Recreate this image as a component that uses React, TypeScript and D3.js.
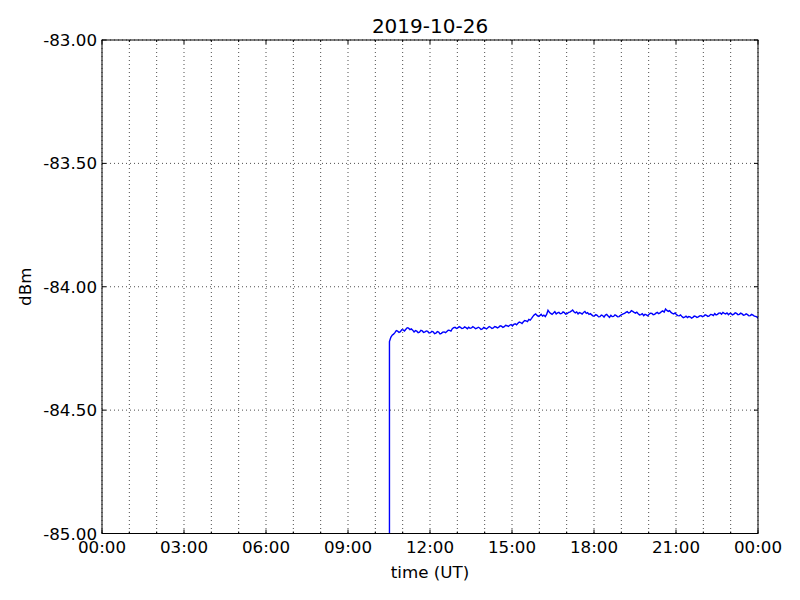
import React from 'react'
import * as d3 from 'd3'

// recorded signal level, one sample every 3 minutes from onset
const onsetMinute = 631
const stepMinutes = 3
const onsetFloor = -85.6
const dbm = [
  -84.222, -84.205, -84.196, -84.192, -84.186, -84.178, -84.180, -84.185, -84.182, -84.174,
  -84.175, -84.179, -84.172, -84.166, -84.168, -84.174, -84.171, -84.176, -84.183, -84.178,
  -84.180, -84.186, -84.184, -84.177, -84.179, -84.185, -84.183, -84.179, -84.181, -84.187,
  -84.186, -84.181, -84.183, -84.190, -84.188, -84.182, -84.184, -84.191, -84.189, -84.184,
  -84.183, -84.186, -84.181, -84.176, -84.177, -84.180, -84.170, -84.166, -84.164, -84.169,
  -84.167, -84.162, -84.165, -84.169, -84.168, -84.163, -84.166, -84.170, -84.164, -84.168,
  -84.167, -84.162, -84.165, -84.170, -84.168, -84.164, -84.167, -84.173, -84.171, -84.165,
  -84.168, -84.171, -84.166, -84.161, -84.164, -84.169, -84.167, -84.161, -84.163, -84.167,
  -84.164, -84.158, -84.160, -84.165, -84.162, -84.156, -84.158, -84.161, -84.156, -84.153,
  -84.159, -84.152, -84.150, -84.154, -84.148, -84.143, -84.145, -84.149, -84.142, -84.137,
  -84.138, -84.141, -84.132, -84.135, -84.128, -84.120, -84.114, -84.110, -84.116, -84.120,
  -84.117, -84.112, -84.119, -84.115, -84.121, -84.112, -84.095, -84.103, -84.108, -84.112,
  -84.106, -84.101, -84.110, -84.106, -84.104, -84.109, -84.108, -84.102, -84.105, -84.111,
  -84.109, -84.104, -84.103, -84.099, -84.094, -84.101, -84.106, -84.102, -84.110, -84.105,
  -84.107, -84.111, -84.104, -84.100, -84.108, -84.105, -84.112, -84.109, -84.114, -84.119,
  -84.118, -84.113, -84.116, -84.122, -84.121, -84.115, -84.117, -84.123, -84.115, -84.112,
  -84.119, -84.124, -84.116, -84.121, -84.120, -84.114, -84.117, -84.122, -84.121, -84.116,
  -84.113, -84.110, -84.108, -84.104, -84.101, -84.106, -84.104, -84.097, -84.100, -84.104,
  -84.107, -84.103, -84.109, -84.114, -84.113, -84.109, -84.117, -84.112, -84.114, -84.118,
  -84.111, -84.107, -84.108, -84.113, -84.112, -84.107, -84.104, -84.109, -84.106, -84.101,
  -84.098, -84.103, -84.090, -84.096, -84.100, -84.097, -84.104, -84.108, -84.110, -84.106,
  -84.113, -84.117, -84.118, -84.114, -84.121, -84.125, -84.123, -84.119, -84.125, -84.121,
  -84.122, -84.127, -84.124, -84.119, -84.120, -84.124, -84.122, -84.118, -84.117, -84.121,
  -84.119, -84.114, -84.116, -84.120, -84.118, -84.112, -84.113, -84.117, -84.109, -84.114,
  -84.112, -84.107, -84.106, -84.111, -84.104, -84.108, -84.110, -84.106, -84.113, -84.108,
  -84.109, -84.114, -84.111, -84.106, -84.108, -84.113, -84.112, -84.107, -84.110, -84.115,
  -84.114, -84.110, -84.113, -84.118, -84.117, -84.112, -84.115, -84.119, -84.120, -84.123,
  -84.129,
]

const yTicks = [-85, -84.5, -84, -83.5, -83]
const xMajorHours = [0, 3, 6, 9, 12, 15, 18, 21, 24]
const xMinorHours = [1, 2, 4, 5, 7, 8, 10, 11, 13, 14, 16, 17, 19, 20, 22, 23]
const xTickLabels = ['00:00', '03:00', '06:00', '09:00', '12:00', '15:00', '18:00', '21:00', '00:00']

const W = 800
const H = 600
const left = 102
const right = 758
const top = 40
const bottom = 533.5
const font = 'DejaVu Sans, sans-serif'

const App = () => {
  const x = d3.scaleLinear().domain([0, 24]).range([left, right])
  const y = d3.scaleLinear().domain([-85, -83]).range([bottom, top])

  const pts: [number, number][] = [[onsetMinute / 60, onsetFloor]]
  dbm.forEach((v, i) => pts.push([(onsetMinute + i * stepMinutes) / 60, v]))
  const line = d3.line<[number, number]>().x(d => x(d[0])).y(d => y(d[1]))

  const grid = { stroke: '#000', strokeWidth: 0.7, strokeDasharray: '1,3' }

  return (
    <svg width={W} height={H} style={{ position: 'absolute', left: 0, top: 0, background: '#fff' }}>
      <defs>
        <clipPath id="plot">
          <rect x={left} y={top} width={right - left} height={bottom - top} />
        </clipPath>
      </defs>
      <rect width={W} height={H} fill="#fff" />
      {/* grid */}
      {xMajorHours.concat(xMinorHours).map(h => (
        <line key={'gx' + h} x1={x(h)} x2={x(h)} y1={top} y2={bottom} {...grid} />
      ))}
      {yTicks.map(t => (
        <line key={'gy' + t} x1={left} x2={right} y1={y(t)} y2={y(t)} {...grid} />
      ))}
      {/* data */}
      <path d={line(pts) || ''} fill="none" stroke="#0000ff" strokeWidth={1.4} clipPath="url(#plot)" />
      {/* ticks */}
      {xMajorHours.map(h => (
        <g key={'tx' + h} stroke="#000" strokeWidth={1}>
          <line x1={x(h)} x2={x(h)} y1={bottom} y2={bottom - 4} />
          <line x1={x(h)} x2={x(h)} y1={top} y2={top + 4} />
        </g>
      ))}
      {xMinorHours.map(h => (
        <g key={'mx' + h} stroke="#000" strokeWidth={1}>
          <line x1={x(h)} x2={x(h)} y1={bottom} y2={bottom - 2} />
          <line x1={x(h)} x2={x(h)} y1={top} y2={top + 2} />
        </g>
      ))}
      {yTicks.map(t => (
        <g key={'ty' + t} stroke="#000" strokeWidth={1}>
          <line x1={left} x2={left + 4} y1={y(t)} y2={y(t)} />
          <line x1={right} x2={right - 4} y1={y(t)} y2={y(t)} />
        </g>
      ))}
      <rect x={left} y={top} width={right - left} height={bottom - top} fill="none" stroke="#000" strokeWidth={1} />
      {/* labels */}
      {xMajorHours.map((h, i) => (
        <text key={'lx' + h} x={x(h)} y={553} textAnchor="middle" fontFamily={font} fontSize={16.7}>
          {xTickLabels[i]}
        </text>
      ))}
      {yTicks.map(t => (
        <text key={'ly' + t} x={97} y={y(t) + 6} textAnchor="end" fontFamily={font} fontSize={16.7}>
          {d3.format('.2f')(t).replace('−', '-')}
        </text>
      ))}
      <text x={(left + right) / 2} y={578} textAnchor="middle" fontFamily={font} fontSize={16.7}>time (UT)</text>
      <text transform={`translate(31,${(top + bottom) / 2}) rotate(-90)`} textAnchor="middle" fontFamily={font} fontSize={16.7}>dBm</text>
      <text x={(left + right) / 2} y={33} textAnchor="middle" fontFamily={font} fontSize={20}>2019-10-26</text>
    </svg>
  )
}

export default App
